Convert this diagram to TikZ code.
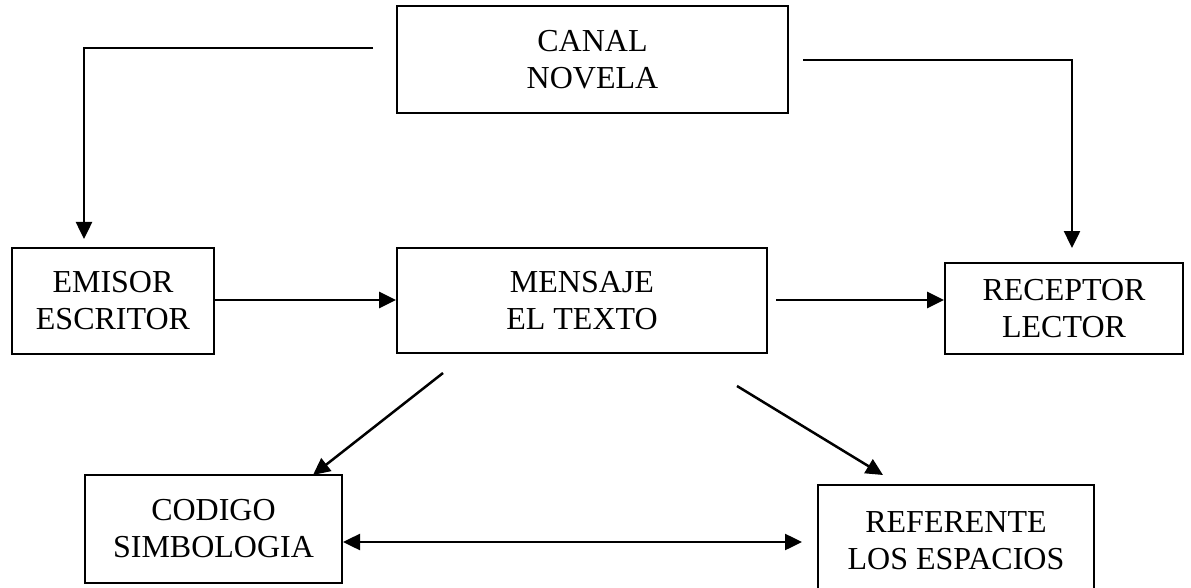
\documentclass[tikz,border=0pt]{standalone}
\usepackage{fontspec}
\setmainfont{Liberation Serif}
\usetikzlibrary{arrows.meta}
\begin{document}
\begin{tikzpicture}[x=1pt,y=-1pt,
  box/.style={draw, line width=1.9pt, inner sep=0pt, align=center,
    font=\fontsize{32}{37}\selectfont},
  arr/.style={line width=2.5pt, -{Triangle[length=17pt,width=16pt]}},
  darr/.style={line width=2.5pt, {Triangle[length=17pt,width=16pt]}-{Triangle[length=17pt,width=16pt]}}]
\clip (0,0) rectangle (1191,588);
\fill[white] (0,0) rectangle (1191,588);
\node[box, minimum width=391pt, minimum height=107pt] (canal) at (592.5,59.5) {CANAL\\NOVELA};
\node[box, minimum width=202pt, minimum height=106pt] (emisor) at (113,301) {EMISOR\\ESCRITOR};
\node[box, minimum width=370pt, minimum height=105pt] (mensaje) at (582,300.5) {MENSAJE\\EL TEXTO};
\node[box, minimum width=238pt, minimum height=91pt] (receptor) at (1064,308.5) {RECEPTOR\\LECTOR};
\node[box, minimum width=257pt, minimum height=108pt] (codigo) at (213.5,529) {CODIGO\\SIMBOLOGIA};
\node[box, minimum width=276pt, minimum height=112pt] (referente) at (956,541) {REFERENTE\\LOS ESPACIOS};
% free ends
\coordinate (c1s) at (373,48);
\coordinate (c1e) at (84,239);
\coordinate (c2s) at (803,60);
\coordinate (c2e) at (1072,248);
\coordinate (m1s) at (443,373);
\coordinate (m1e) at (313,475);
\coordinate (m2s) at (737,386);
\coordinate (m2e) at (883,475);
\coordinate (d1) at (343,542);
\coordinate (d2) at (802,542);
\coordinate (r1s) at (776,300);
\draw[arr] (c1s) -| (c1e);
\draw[arr] (c2s) -| (c2e);
\draw[arr] (emisor.east |- 0,300) -- (mensaje.west |- 0,300);
\draw[arr] (r1s) -- (receptor.west |- r1s);
\draw[arr] (m1s) -- (m1e);
\draw[arr] (m2s) -- (m2e);
\draw[darr] (d1) -- (d2);
\end{tikzpicture}
\end{document}
